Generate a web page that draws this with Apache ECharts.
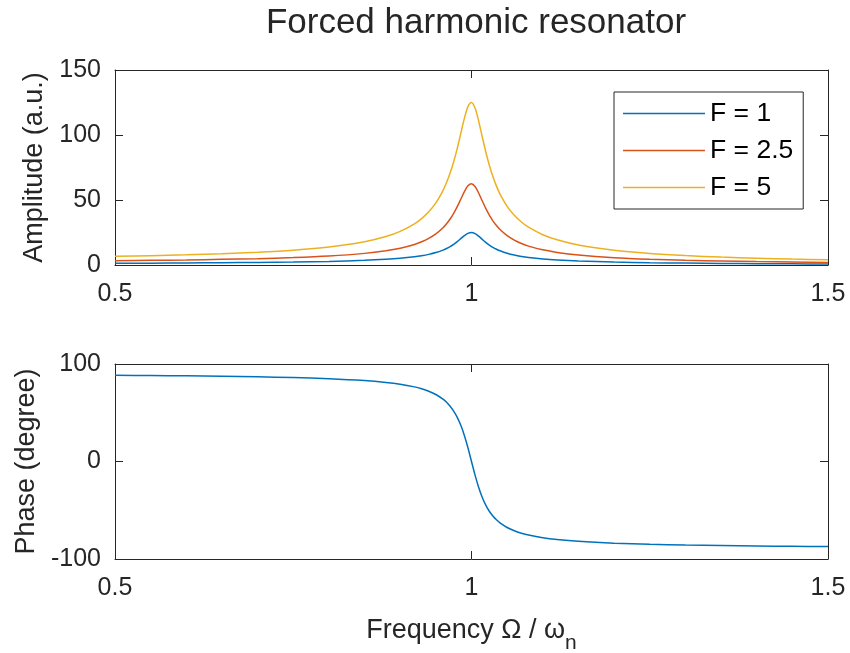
<!DOCTYPE html>
<html>
<head>
<meta charset="utf-8">
<script src="https://cdn.jsdelivr.net/npm/echarts@6/dist/echarts.min.js"></script>
<style>html,body{margin:0;padding:0;background:#fff;}#c{width:850px;height:653px;}</style>
</head>
<body>
<div id="c"></div>
<script>
// Frequency ratio samples (Omega / omega_n)
const freq = [0.5, 0.55, 0.6, 0.65, 0.7, 0.75, 0.8, 0.85, 0.88, 0.9, 0.92, 0.93, 0.94, 0.95, 0.96, 0.965, 0.97, 0.975, 0.98, 0.985, 0.99, 0.995, 1.0,
  1.005, 1.01, 1.015, 1.02, 1.025, 1.03, 1.035, 1.04, 1.05, 1.06, 1.07, 1.08, 1.1, 1.12, 1.15, 1.2, 1.25, 1.3, 1.35, 1.4, 1.45, 1.5];
// Amplitude
const ampF1 = [1.33, 1.43, 1.56, 1.73, 1.96, 2.28, 2.77, 3.58, 4.38, 5.17, 6.33, 7.14, 8.18, 9.56, 11.45, 12.68, 14.15, 15.89, 17.95, 20.25, 22.57, 24.37, 25.0,
  24.14, 22.16, 19.76, 17.42, 15.35, 13.60, 12.14, 10.92, 9.03, 7.65, 6.62, 5.82, 4.66, 3.87, 3.07, 2.26, 1.77, 1.45, 1.21, 1.04, 0.91, 0.80];
const ampF25 = [3.33, 3.58, 3.90, 4.33, 4.90, 5.70, 6.92, 8.94, 10.95, 12.93, 15.83, 17.84, 20.44, 23.89, 28.64, 31.70, 35.36, 39.73, 44.87, 50.62, 56.41, 60.93, 62.5,
  60.34, 55.41, 49.39, 43.54, 38.38, 34.00, 30.35, 27.29, 22.57, 19.13, 16.55, 14.54, 11.65, 9.68, 7.68, 5.65, 4.43, 3.61, 3.03, 2.60, 2.27, 2.00];
const ampF5 = [6.67, 7.17, 7.81, 8.65, 9.79, 11.40, 13.84, 17.89, 21.90, 25.86, 31.66, 35.68, 40.88, 47.78, 57.27, 63.40, 70.73, 79.47, 89.73, 101.24, 112.83, 121.86, 125.0,
  120.69, 110.81, 98.79, 87.08, 76.75, 68.01, 60.69, 54.59, 45.14, 38.27, 33.10, 29.09, 23.31, 19.36, 15.35, 11.30, 8.86, 7.23, 6.07, 5.20, 4.53, 4.00];
// Phase (degree)
const phase = [88.47, 88.19, 87.85, 87.42, 86.86, 86.08, 84.92, 83.02, 81.13, 79.27, 76.53, 74.61, 72.10, 68.71, 63.91, 60.70, 56.71, 51.70, 45.29, 37.08, 26.68, 14.07, 0,
  -14.0, -26.45, -36.67, -44.72, -51.0, -55.92, -59.83, -62.99, -67.72, -71.07, -73.54, -75.45, -78.17, -80.01, -81.88, -83.77, -84.92, -85.69, -86.24, -86.66, -86.99, -87.25];
const seriesNames = ['F = 1', 'F = 2.5', 'F = 5'];
const xTicks = [0.5, 1, 1.5];
const ampTicks = [0, 50, 100, 150];
const phaseTicks = [-100, 0, 100];

const FONT = '"Liberation Sans", Arial, Helvetica, sans-serif';
const TXT = '#262626';
const AX = '#262626';
const colors = ['#0072BD', '#D95319', '#EDB120'];

const pairs = ys => freq.map((x, i) => [x, ys[i]]);

function xAx(gridIndex, pos, labels, extra) {
  return Object.assign({
    type: 'value', gridIndex: gridIndex, position: pos,
    min: xTicks[0], max: xTicks[xTicks.length - 1], interval: xTicks[1] - xTicks[0],
    axisLine: { show: true, onZero: false, lineStyle: { color: AX, width: 1 } },
    axisTick: { show: true, inside: true, length: 8, lineStyle: { color: AX, width: 1 } },
    axisLabel: { show: labels, color: TXT, fontSize: 25, fontFamily: FONT, margin: 17,
      formatter: v => String(v) },
    splitLine: { show: false }
  }, extra || {});
}
function yAx(gridIndex, pos, labels, ticks, extra) {
  return Object.assign({
    type: 'value', gridIndex: gridIndex, position: pos,
    min: ticks[0], max: ticks[ticks.length - 1], interval: ticks[1] - ticks[0],
    axisLine: { show: true, onZero: false, lineStyle: { color: AX, width: 1 } },
    axisTick: { show: true, inside: true, length: 8, lineStyle: { color: AX, width: 1 } },
    axisLabel: { show: labels, color: TXT, fontSize: 25, fontFamily: FONT, margin: 14 },
    splitLine: { show: false }
  }, extra || {});
}

const chart = echarts.init(document.getElementById('c'), null, { renderer: 'canvas' });
chart.setOption({
  backgroundColor: '#ffffff',
  animation: false,
  title: {
    text: 'Forced harmonic resonator', left: 471, top: 1, textAlign: 'center',
    textStyle: { color: TXT, fontSize: 35, fontWeight: 'normal', fontFamily: FONT }
  },
  legend: {
    data: seriesNames, orient: 'vertical', left: 614, top: 92,
    padding: [8, 10, 8, 9], itemGap: 10, itemWidth: 82, itemHeight: 14,
    backgroundColor: '#ffffff', borderColor: '#262626', borderWidth: 1, borderRadius: 0,
    textStyle: { color: '#000', fontSize: 26.5, fontFamily: FONT },
    icon: 'path://M0,7 L82,7 L82,8.5 L0,8.5 Z'
  },
  grid: [
    { left: 115, top: 70, width: 713, height: 195, containLabel: false, outerBoundsMode: 'none' },
    { left: 115, top: 364, width: 713, height: 195, containLabel: false, outerBoundsMode: 'none' }
  ],
  xAxis: [
    xAx(0, 'bottom', true),
    xAx(0, 'top', false),
    xAx(1, 'bottom', true, {
      name: '{a|Frequency Ω / ω}{s|n}', nameLocation: 'middle', nameGap: 48,
      nameTextStyle: { rich: {
        a: { color: TXT, fontSize: 27, fontFamily: FONT },
        s: { color: TXT, fontSize: 21, fontFamily: FONT, padding: [26, 0, 0, 0] }
      } }
    }),
    xAx(1, 'top', false)
  ],
  yAxis: [
    yAx(0, 'left', true, ampTicks, {
      name: 'Amplitude (a.u.)', nameLocation: 'middle', nameGap: 62,
      nameTextStyle: { color: TXT, fontSize: 27, fontFamily: FONT }
    }),
    yAx(0, 'right', false, ampTicks),
    yAx(1, 'left', true, phaseTicks, {
      name: 'Phase (degree)', nameLocation: 'middle', nameGap: 71,
      nameTextStyle: { color: TXT, fontSize: 27, fontFamily: FONT }
    }),
    yAx(1, 'right', false, phaseTicks)
  ],
  series: [
    { name: seriesNames[0], type: 'line', xAxisIndex: 0, yAxisIndex: 0, data: pairs(ampF1),
      symbol: 'none', smooth: 0.3, lineStyle: { color: colors[0], width: 1.5 }, itemStyle: { color: colors[0] } },
    { name: seriesNames[1], type: 'line', xAxisIndex: 0, yAxisIndex: 0, data: pairs(ampF25),
      symbol: 'none', smooth: 0.3, lineStyle: { color: colors[1], width: 1.5 }, itemStyle: { color: colors[1] } },
    { name: seriesNames[2], type: 'line', xAxisIndex: 0, yAxisIndex: 0, data: pairs(ampF5),
      symbol: 'none', smooth: 0.3, lineStyle: { color: colors[2], width: 1.5 }, itemStyle: { color: colors[2] } },
    { name: 'phase', type: 'line', xAxisIndex: 2, yAxisIndex: 2, data: pairs(phase),
      symbol: 'none', smooth: 0.3, lineStyle: { color: colors[0], width: 1.5 }, itemStyle: { color: colors[0] } }
  ]
});
</script>
</body>
</html>
